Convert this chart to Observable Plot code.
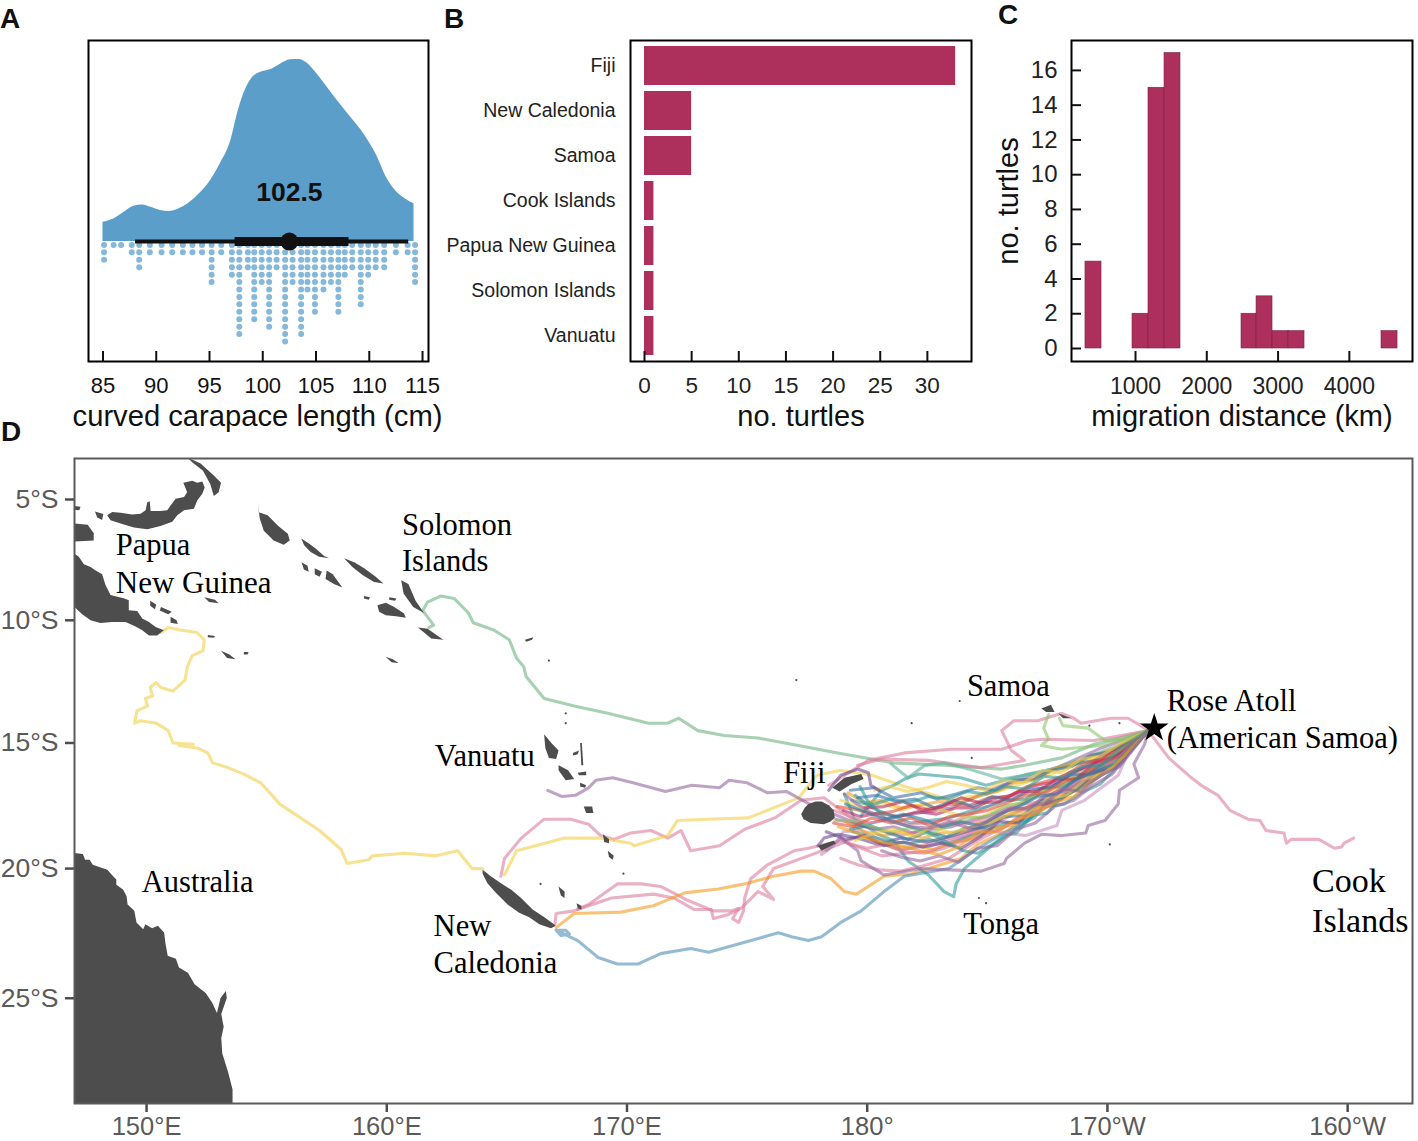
<!DOCTYPE html>
<html>
<head>
<meta charset="utf-8">
<script src="https://cdn.jsdelivr.net/npm/d3@7"></script>
<script src="https://cdn.jsdelivr.net/npm/@observablehq/plot@0.6"></script>
<style>
  html, body { margin: 0; padding: 0; background: white; }
  #page { position: relative; width: 1418px; height: 1141px; overflow: hidden; font-family: "Liberation Sans", sans-serif; }
  #page svg { position: absolute; }
  .tag { position: absolute; font-weight: bold; font-size: 28px; line-height: 28px; color: #111; }
</style>
</head>
<body>
<div id="page">
  <div class="tag" style="left:0;top:5px">A</div>
  <div class="tag" style="left:444px;top:5px">B</div>
  <div class="tag" style="left:998px;top:1px">C</div>
  <div class="tag" style="left:1px;top:418px">D</div>
</div>
<script>
// panel A: carapace length
const sizeX = [85,86,87,87.9,88.7,89.5,90.4,91.2,92.1,93.05,94.1,95.1,96,97,97.7,98.4,99,99.8,100.7,101.65,102.6,103.4,104.15,105.1,106.65,108.2,109.6,110.7,111.6,112.6,113.4,114.2]
const sizeDensity = [.106,.124,.161,.194,.201,.188,.17,.165,.179,.21,.265,.335,.426,.554,.718,.837,.898,.929,.943,.974,.998,1,.98,.92,.8,.686,.581,.472,.353,.271,.234,.207]
const dotBins = [85.1,86,86.7,87.7,88.4,89.4,90.5,91.5,92.5,93.4,94.3,95.2,96.1,97.1,97.8,98.6,99.2,99.9,100.6,101.3,102.1,102.8,103.6,104.2,104.9,105.7,106.4,107.1,107.7,108.4,109.2,109.9,110.6,111.4,112.5,113.6,114.3]
const dotCounts = [3,1,1,2,4,2,2,2,2,2,2,6,2,5,13,4,11,6,12,4,14,6,13,7,10,7,6,10,5,4,9,5,4,4,2,2,6]
const sizeMedian = 102.5
const sizeThin = [88.05, 113.7]
const sizeThick = [97.4, 108.1]
const sizeTicks = [85,90,95,100,105,110,115]

// panel B: countries
const places = ['Fiji','New Caledonia','Samoa','Cook Islands','Papua New Guinea','Solomon Islands','Vanuatu']
const placeCounts = [33,5,5,1,1,1,1]
const placeTicks = [0,5,10,15,20,25,30]

// panel C: migration distance
const binStart = [298,958,1182,1407,2487,2698,2922,3147,4451]
const binEnd = [523,1182,1407,1631,2698,2922,3147,3371,4676]
const binCounts = [5,2,15,17,2,3,1,1,1]
const distTicks = [1000,2000,3000,4000]
const countTicks = [0,2,4,6,8,10,12,14,16]

// panel D: map, longitudes run on past 180, latitudes are degrees south
const lonTicks = [150,160,170,180,190,200]
const lonLabels = ['150°E','160°E','170°E','180°','170°W','160°W']
const latTicks = [5,10,15,20,25]
const latLabels = ['5°S','10°S','15°S','20°S','25°S']

const place = [
  ['Solomon',160.63,6.05,30.5],['Islands',160.63,7.55,30.5],['Papua',148.72,6.9,30.5],['New Guinea',148.72,8.45,31],
  ['Samoa',184.15,12.7,30.5],['Rose Atoll',192.47,13.3,30.5],['(American Samoa)',192.47,14.82,30.5],['Vanuatu',162,15.55,30.5],
  ['Fiji',176.5,16.2,30.5],['Cook',198.52,20.5,34],['Islands',198.52,22.05,34],['Australia',149.8,20.52,30.5],
  ['Tonga',184,22.15,30.5],['New',161.95,22.25,30.5],['Caledonia',161.95,23.65,30.5]
]
const roseAtoll = [191.95, 14.4]

const land = [
  // Australia
  [[146,19.39],[146.97,19.39],[147.35,19.43],[147.44,19.65],[147.63,19.65],[147.76,19.85],[148.09,19.96],[148.37,20.05],[148.56,20.25],[148.74,20.43],[148.74,20.63],[149.02,20.82],[149.17,21.08],[149.21,21.4],[149.49,21.65],[149.58,22.1],[149.86,22.36],[149.95,22.17],[150.23,22.32],[150.47,22.23],[150.73,22.49],[150.79,22.93],[150.88,23.38],[151.22,23.5],[151.35,23.83],[151.72,24.03],[152,24.47],[152.46,24.8],[152.74,25.18],[152.93,25.56],[153.08,24.99],[153.3,24.73],[153.34,24.99],[153.11,25.6],[153.21,26.07],[153.11,26.5],[153.15,27.06],[153.39,27.75],[153.58,28.4],[153.58,30],[146,30]],
  // Papua New Guinea
  [[146,7.2],[147,7.25],[147.18,7.38],[147.39,7.69],[147.67,7.8],[147.88,7.95],[148.15,8.1],[148.29,8.55],[148.5,8.96],[148.78,9.03],[149.08,9.1],[149.26,9.17],[149.26,9.59],[149.61,9.62],[149.82,9.93],[150.1,10.07],[150.38,10.28],[150.72,10.41],[150.44,10.62],[150.1,10.62],[149.82,10.41],[149.54,10.25],[149.13,10.07],[148.57,10.07],[148.08,10.11],[147.67,10],[147.32,9.75],[147,9.45],[146,9.4]],
  [[148.36,5.66],[148.57,5.52],[148.92,5.55],[149.4,5.62],[149.75,5.59],[149.96,5.45],[150.03,5.11],[150.13,5.07],[150.17,5.48],[150.58,5.48],[150.86,5.45],[151,5.25],[151.21,4.97],[151.56,4.9],[151.69,4.7],[151.53,4.3],[151.9,4.22],[152.11,4.3],[152.32,4.25],[152.42,4.5],[152.32,4.76],[152.11,5.04],[151.97,5.38],[151.56,5.45],[151.28,5.66],[151.07,5.93],[150.58,6.1],[150.03,6.24],[149.47,6.16],[148.92,6],[148.5,5.86]],
  [[151.7,3.25],[152.25,3.5],[152.8,4],[153.1,4.3],[153,4.7],[152.8,4.85],[152.65,4.35],[152.35,3.8],[151.9,3.45]],
  [[146,6],[147,6],[147.55,6.05],[147.8,6.4],[147.8,6.7],[147,6.75],[146,6.75]],
  [[147.85,5.5],[148.2,5.6],[148.15,5.85],[147.95,5.75]],
  [[146.8,5.25],[147.25,5.3],[147.2,5.45],[146.8,5.4]],
  [[150.15,9.2],[150.4,9.35],[150.35,9.55],[150.15,9.4]],
  [[150.6,9.45],[151.05,9.65],[150.9,9.75],[150.55,9.6]],
  [[151,9.85],[151.25,10],[151.3,10.15],[151,10.1]],
  [[152.4,9.05],[152.85,9.15],[153,9.3],[152.6,9.25]],
  [[153.1,11.25],[153.45,11.4],[153.7,11.6],[153.35,11.55]],
  [[154.05,11.3],[154.25,11.3],[154.2,11.4],[154.05,11.4]],
  [[152.55,10.6],[152.85,10.65],[152.8,10.72],[152.55,10.7]],
  // Solomon Islands
  [[154.63,5.1],[154.67,5.53],[155.04,5.66],[155.46,6.08],[155.88,6.42],[155.96,6.7],[155.71,6.88],[155.29,6.7],[154.88,6.3],[154.71,5.78]],
  [[156.44,6.62],[156.76,6.83],[157.04,7.03],[157.39,7.35],[157.6,7.44],[157.18,7.38],[156.83,7.18],[156.56,6.9]],
  [[156.45,7.6],[156.7,7.75],[156.75,8],[156.55,7.9]],
  [[157,7.85],[157.3,8],[157.2,8.2],[157,8.1]],
  [[157.5,7.95],[157.75,8.1],[158.15,8.65],[157.8,8.5],[157.45,8.3]],
  [[158.22,7.44],[158.64,7.6],[159.06,7.85],[159.54,8.2],[159.86,8.48],[159.47,8.42],[158.99,8.13],[158.57,7.8]],
  [[159.61,9.38],[159.96,9.28],[160.31,9.45],[160.72,9.72],[160.79,9.9],[160.38,9.83],[159.96,9.79],[159.68,9.65]],
  [[160.6,8.35],[160.9,8.5],[161.2,9.2],[161.55,9.7],[161.1,9.45],[160.7,8.9]],
  [[161.3,10.3],[161.7,10.35],[162.35,10.8],[161.85,10.75]],
  [[160.1,9.05],[160.4,9.1],[160.35,9.2],[160.1,9.15]],
  [[159.05,9],[159.3,9.05],[159.25,9.15],[159.05,9.1]],
  [[159.95,11.5],[160.25,11.6],[160.5,11.75],[160.2,11.72]],
  [[165.75,10.8],[166.1,10.7],[166.05,10.8],[165.8,10.88]],
  // Vanuatu
  [[166.55,14.65],[166.85,15],[167.15,15.3],[167.05,15.65],[166.75,15.6],[166.6,15.2]],
  [[167.15,15.9],[167.55,16.1],[167.8,16.45],[167.45,16.5],[167.15,16.1]],
  [[167.75,15.4],[168,15.3],[167.95,15.45],[167.75,15.5]],
  [[167.95,16.2],[168.3,16.15],[168.3,16.3],[168,16.3]],
  [[168.05,16.6],[168.3,16.7],[168.25,16.8],[168.05,16.75]],
  [[168.2,17.55],[168.55,17.55],[168.6,17.8],[168.3,17.8]],
  [[169,18.65],[169.25,18.85],[169.25,19],[169.05,18.95]],
  [[169.2,19.3],[169.45,19.5],[169.4,19.65],[169.25,19.55]],
  [[168.05,15],[168.12,15],[168.18,15.9],[168.1,15.9]],
  // New Caledonia
  [[163.99,20.05],[164.33,20.3],[164.75,20.57],[165.17,20.82],[165.58,21.14],[166.07,21.6],[166.56,21.9],[167.04,22.23],[166.83,22.32],[166.35,22.17],[165.93,21.9],[165.51,21.72],[165.03,21.4],[164.54,20.95],[164.19,20.57],[163.99,20.2]],
  [[167.15,20.7],[167.4,20.9],[167.4,21.15],[167.25,21.05],[167.2,20.9]],
  [[167.9,21.35],[168.1,21.45],[168.1,21.6],[167.95,21.55]],
  // Fiji
  [[177.25,17.85],[177.4,17.6],[177.55,17.45],[177.85,17.35],[178.1,17.35],[178.4,17.5],[178.6,17.7],[178.65,18],[178.45,18.15],[178.2,18.25],[177.65,18.2],[177.35,18.05]],
  [[178.55,16.8],[179.05,16.4],[179.75,16.25],[179.85,16.45],[179.35,16.65],[178.85,16.95]],
  [[177.95,19.1],[178.6,18.9],[178.7,19],[178.1,19.3]],
  // Samoa
  [[187.25,13.6],[187.65,13.45],[187.8,13.75],[187.45,13.75]],
  [[187.95,13.8],[188.5,14],[188.15,14]]
]
const dustLon = [167.45,167.45,166.75,169.85,166.4,190.1,184.65,184.95,177.05,181.85,183.85,184.35,190.5,189.25]
const dustLat = [13.8,14.2,11.65,20.2,20.6,19.05,21.15,21.35,12.45,14.2,13.3,15.6,14.2,14.3]

const trackColors = [
  '#f2cf4a','#6db37f','#dc7c9c','#f2cf4a','#dc7c9c','#dc7c9c','#f39b1f','#4f8db5','#94659f','#dc7c9c',
  '#dc7c9c','#2e9a9a','#2e9a9a','#5fb39a','#dc7c9c','#dc7c9c','#8cc56a','#8cc56a',
  '#94659f','#c78fc0','#6a4a90',
  '#f39b1f','#3a6fa8','#b5285e','#f2cf4a','#2e9a9a','#94659f','#dc7c9c','#f39b1f','#1f7fa0','#df4f3a','#8cc56a',
  '#f2cf4a','#3a6fa8','#b5285e','#2e9a9a','#f39b1f','#dc7c9c','#6a4a90','#2e9a9a','#f2cf4a','#df4f3a','#94659f','#1f7fa0','#f39b1f','#2e9a9a',
  '#94659f','#6a4a90'
]
const tracks = [
  // Papua New Guinea
  [[150.6,10.5],[150.9,10.3],[151.4,10.4],[152.1,10.5],[152.4,10.8],[152.35,11.25],[151.9,11.45],[151.7,11.9],[151.6,12.45],[151.1,12.9],[150.6,12.75],[150.4,12.55],[150.15,12.75],[150.25,13.1],[149.95,13.2],[150.05,13.5],[149.6,13.7],[149.5,14.2],[149.75,14.1],[150.4,14.2],[150.9,14.5],[151.1,15],[151.95,15.05],[151.35,15.1],[152.1,15.2],[152.55,15.4],[152.75,15.8],[153.4,16],[154.05,16.25],[154.75,16.6],[155.55,17.45],[157.2,18.5],[158.1,19.25],[158.35,19.8],[159.25,19.65],[159.4,19.5],[160.75,19.4],[162.05,19.5],[162.95,19.3],[163.55,20],[164,20]],
  // Solomon Islands
  [[161.75,10.3],[161.95,10.2],[161.5,9.6],[161.7,9.25],[162.25,9],[162.8,9.1],[163.4,9.7],[163.6,10.1],[164.45,10.4],[165.1,10.8],[165.4,11.55],[165.7,11.9],[165.8,12.3],[166.55,13.2],[167.8,13.5],[169.2,13.8],[170.9,14.2],[171.7,14.2],[172.15,14],[172.95,14.5],[174.05,14.7],[175.45,14.8],[176.85,15.05],[179.05,15.45],[181.1,15.8],[183.4,15.9],[185.6,16.05],[186.55,15.9],[188.1,15.6],[189.45,15.05],[191.7,14.5]],
  // New Caledonia, north of Vanuatu's south end
  [[164.75,20.3],[164.9,19.6],[165.6,18.8],[166.55,18.05],[167.65,18.05],[168.4,18.25],[168.9,18.7],[169.45,18.85],[170.15,18.6],[171,18.5],[171.7,18.8],[172.25,18.5],[172.65,19.3],[173.85,19.1],[174.9,18.45],[176.15,18],[177.25,17.3],[178.2,17.2],[179.75,18.3],[181.4,18.7],[183.5,18.2],[185.6,17.3],[187.65,16.7],[189.75,15.7],[191.7,14.5]],
  [[164.9,20.25],[165.4,19.3],[166.4,19.05],[167.4,18.8],[168.9,18.8],[170.15,19],[170.3,19.1],[171.7,18.7],[172.1,18.1],[173.35,18.05],[175.05,18],[176.1,17.6],[177.15,17.2],[177.9,16.3],[178.9,16.1],[180.2,16.3],[181.4,16.7],[183.5,17.3],[185.6,16.9],[188.1,16.1],[190.15,15.3],[191.7,14.5]],
  // New Caledonia, southern routes
  [[167,22.15],[167.05,21.75],[167.8,21.65],[168.4,21.4],[169.6,20.6],[170.6,20.6],[171.4,20.7],[172.55,21.25],[173.6,21.65],[174.35,21.65],[174.65,21.55],[174.4,21.95],[174.65,22.1],[174.85,21.65],[174.9,21.15],[175.15,20.4],[175.85,19.85],[176.95,19.3],[177.55,19.2],[178.9,18.9],[180.6,19.5],[182.65,19.3],[185.15,18.3],[187.25,17.3],[189.75,15.9],[191.7,14.5]],
  [[167.95,21.6],[169.35,21.15],[171.1,21],[171.95,21.15],[172.8,21.6],[173.5,21.6],[173.6,21.95],[174.2,21.8],[174.75,21.55],[175.45,20.9],[176.1,21.2],[175.65,20.7],[176.1,20],[177.55,19.5],[178.4,19.2],[179.75,18.7],[181.4,19.3],[183.9,18.7],[186.4,17.7],[188.5,16.7],[190.15,15.5],[191.7,14.5]],
  [[167.05,22.3],[167.8,21.75],[169.75,21.7],[171.1,21.45],[172.4,20.95],[173.8,20.8],[174.9,20.6],[176.1,20.3],[177.25,20.1],[177.8,20.1],[178.5,20.4],[179.05,20.9],[179.55,21],[180.7,20.3],[181.85,20.2],[183.9,19.6],[184.6,19.05],[185.85,18.5],[187.35,17.45],[189.45,16.25],[191.7,14.5]],
  [[167.05,22.4],[167.45,22.4],[167.6,22.55],[167.25,22.6],[167.05,22.4],[167.95,22.8],[168.8,23.45],[169.6,23.7],[170.45,23.7],[171.4,23.3],[172.65,23.1],[173.4,23.25],[174.75,22.9],[176.3,22.5],[176.85,22.65],[177.55,22.8],[178.1,22.65],[178.9,22.1],[179.75,21.65],[180.7,20.9],[181.55,20.3],[183.4,20],[184.45,19.3],[185.6,18.65],[186.95,18],[187.8,17],[189.45,16.1],[191.55,14.7],[191.7,14.5]],
  // Vanuatu
  [[166.7,16.9],[167.3,17.15],[167.85,17.1],[168.4,16.8],[168.7,16.5],[169.4,16.4],[170.25,16.6],[171.6,16.95],[172.7,16.7],[173.85,16.8],[174.25,16.5],[175,16.6],[175.85,17],[176.65,16.95],[177.5,17.4],[179.75,18.3],[181.5,17.9],[183.5,17.6],[185.6,16.7],[187.65,16.1],[189.75,15.2],[191.7,14.5]],
  // Samoa side loops
  [[178.4,16.7],[180.05,15.7],[181.55,15.4],[183.5,15.25],[185.6,15.25],[186.7,14.9],[187.35,14.85],[189.45,14.9],[191.7,14.5]],
  [[179.6,15.9],[180.6,15.65],[182.55,15.7],[184.75,16],[186.55,15.7],[186,15.3],[185.6,14.5],[186.1,14.1],[187.1,14.1],[188.1,13.8],[188.6,14],[188.9,14.2],[190.15,14],[190.85,14],[191.4,14.3],[191.7,14.5]],
  // Tonga loop and upper teal
  [[179.05,17.05],[179.45,18],[180.45,18.65],[181.1,18.9],[181.7,19.7],[182.55,20.25],[183.2,20.9],[183.6,21.1],[183.7,20.6],[184.05,20],[185.05,19.2],[186.1,18.5],[187.35,17.6],[188.8,16.8],[190.3,16],[191.7,14.5]],
  [[179.75,17.9],[180.6,16.9],[181.1,16.7],[181.55,16.45],[182.15,16.25],[183.9,16.4],[184.95,16.7],[186.7,16.25],[189.45,15.7],[191.7,14.5]],
  [[181,15.85],[181.7,16.4],[182.4,15.9],[183.2,15.8],[184.4,16.1],[185.6,16.45],[187.2,16.2],[188.8,15.7],[190.3,15.15],[191.7,14.5]],
  // Cook Islands
  [[191.7,14.5],[192.55,15.6],[193.5,16.4],[193.9,16.7],[194.6,17.1],[195.1,17.7],[195.85,18.05],[196.35,18.1],[196.6,18.5],[197.35,18.6],[197.45,19],[197.65,18.85],[198.8,18.85],[199.45,19.2],[199.75,19.15],[199.85,19],[200.25,18.8]],
  [[178.9,19.6],[179.6,19.85],[180.5,20.05],[181.4,20.1],[182.3,19.9],[183.4,19.6],[184.6,18.9],[185.8,18.3],[187.1,17.4],[188.4,16.6],[189.6,15.9],[190.7,15.2],[191.7,14.5]],
  // Samoa greens
  [[187.55,13.85],[187.35,14.4],[187.55,14.85],[187.25,15.1],[188.1,15.25],[189.75,15.1],[191.7,14.5]],
  [[188,14],[188.15,14.3],[189.2,14.4],[189.9,14.9],[190.8,14.85],[191.7,14.5]],
  // lower purple outliers
  [[191.7,14.5],[191.55,15.05],[191.1,15.85],[191.3,16.4],[190.5,16.9],[190.45,17.45],[189.9,18.1],[189.2,18.3],[189.1,18.6],[188.1,18.7],[187.25,18.65],[186.55,19],[185.8,19.6],[185.7,19.8],[184.75,20.1],[183.4,20.05],[182.25,20],[180.7,20.25],[179.75,19.7],[179.6,19.3],[178.9,18.8],[178.3,19.3]],
  [[191.7,14.5],[191,15.1],[190.45,16.3],[189.05,17.3],[188.1,17.7],[187.9,18.3],[186.6,18.7],[184.95,18.5],[182.65,19.1],[181.4,19.25],[179.75,18.5],[179,18.55],[178.6,19.1],[178.1,19.45]],
  [[177.95,19.1],[178.2,18.8],[178.8,18.65],[179.6,18.8],[180.45,19.05],[181.4,18.8],[182.5,18.95],[183.6,18.7],[184.8,18.35],[186,17.6],[187.3,17],[188.6,16.2],[190,15.4],[191.7,14.5]],
  // Fiji, the main bundle
  [[179.2,17],[179.9,17.4],[180.6,17.3],[181.4,17.6],[182.2,17.5],[183,17.35],[183.8,17.4],[184.6,17.15],[185.4,16.95],[186.1,16.6],[186.9,16.5],[187.7,16.05],[188.5,15.85],[189.3,15.55],[190.1,15.3],[190.9,14.95],[191.7,14.5]],
  [[179.3,16.9],[180.3,16.8],[181.1,17.2],[182.25,17],[182.9,17.25],[183.7,17.05],[184.6,16.8],[185.3,16.9],[186.1,16.5],[186.9,16.45],[187.7,16.1],[188.5,15.95],[189.3,15.5],[190.1,15.35],[190.9,14.95],[191.7,14.5]],
  [[179,17.7],[179.7,17.95],[180.5,17.8],[181.3,17.95],[182.1,17.75],[182.9,17.85],[183.7,17.6],[184.5,17.6],[185.2,17.25],[186,17.1],[186.8,16.75],[187.6,16.6],[188.4,16.2],[189.2,15.95],[190,15.5],[190.8,15.1],[191.7,14.5]],
  [[178.9,17.3],[179.8,17.6],[180.6,17.4],[181.4,17.7],[182.3,17.45],[183.1,17.7],[183.9,17.9],[184.7,18],[185.5,17.6],[186.2,17.45],[187,17.05],[187.8,16.9],[188.5,16.4],[189.4,16.1],[190.2,15.45],[191,15.05],[191.7,14.5]],
  [[179.5,17.1],[180.2,17.6],[181,17.9],[181.8,18.2],[182.6,18.1],[183.4,18],[184.2,17.75],[185,17.55],[185.8,17.3],[186.6,17.25],[187.3,16.8],[188.1,16.75],[188.9,16.35],[189.7,16.05],[190.4,15.6],[191,15.2],[191.7,14.5]],
  [[178.7,18.05],[179.5,18.25],[180.3,18.45],[181.1,18.35],[181.9,18.6],[182.7,18.45],[183.5,18.35],[184.3,18.1],[185.1,17.9],[185.9,17.6],[186.7,17.65],[187.4,17.1],[188.2,16.95],[189,16.5],[189.8,16],[190.6,15.4],[191.7,14.5]],
  [[178.6,17.7],[179.3,17.95],[180.1,18.2],[180.9,18.05],[181.7,18.25],[182.5,18.2],[183.3,18.05],[184.1,18.25],[184.9,18.05],[185.7,17.75],[186.5,17.45],[187.3,17.35],[188,16.85],[188.8,16.6],[189.6,16],[190.4,15.7],[191.7,14.5]],
  [[179.1,18.15],[179.9,18.55],[180.7,18.7],[181.5,18.55],[182.3,18.8],[183.1,18.6],[183.9,18.55],[184.7,18.2],[185.5,18.05],[186.3,17.65],[187.1,17.55],[187.9,17.2],[188.7,16.9],[189.5,16.35],[190.3,15.75],[191.7,14.5]],
  [[179.3,18.45],[180.1,18.3],[180.9,18.6],[181.7,18.85],[182.5,18.55],[183.3,18.75],[184.1,18.4],[184.9,18.4],[185.7,17.95],[186.5,17.9],[187.3,17.3],[188.1,17.25],[188.9,16.6],[189.7,16.25],[190.5,15.6],[191.7,14.5]],
  [[178.75,17.55],[179.45,17.65],[180.25,17.85],[181.05,17.75],[181.85,17.5],[182.65,17.7],[183.45,17.45],[184.25,17.5],[185.05,17.2],[185.85,17.15],[186.65,16.75],[187.45,16.55],[188.25,16.3],[189.05,15.8],[189.85,15.65],[190.65,15.1],[191.7,14.5]],
  [[178.65,18.1],[179.4,18.1],[180.2,18.35],[181,18.55],[181.8,18.4],[182.6,18.65],[183.4,18.3],[184.2,18],[185,17.95],[185.8,17.5],[186.6,17.4],[187.4,16.85],[188.2,16.65],[189,16.15],[189.8,15.85],[190.6,15.25],[191.7,14.5]],
  [[180.3,16.9],[180.9,16.75],[181.7,16.95],[182.5,16.8],[183.3,16.55],[184.1,16.7],[184.9,16.9],[185.7,16.5],[186.5,16.6],[187.3,16.1],[188.1,16.2],[188.9,15.65],[189.7,15.55],[190.5,15.05],[191.7,14.5]],
  [[179.6,17.2],[180.4,17.1],[181.2,17.35],[182,17.25],[182.8,17.6],[183.6,17.3],[184.4,17.55],[185.2,17.15],[186,17.3],[186.8,16.85],[187.6,16.8],[188.4,16.3],[189.2,16.25],[190,15.7],[190.8,15.3],[191.7,14.5]],
  [[179.9,17.6],[180.7,17.55],[181.5,17.35],[182.3,17.7],[183.1,17.55],[183.9,17.2],[184.7,17.4],[185.5,17.35],[186.3,16.95],[187.1,16.95],[187.9,16.45],[188.7,16.45],[189.5,15.8],[190.3,15.55],[191.7,14.5]],
  [[179.4,18.55],[180.2,18.75],[181,18.95],[181.8,19],[182.6,18.85],[183.4,19.05],[184.2,18.75],[185,18.5],[185.8,18.2],[186.6,18.1],[187.4,17.55],[188.2,17.45],[188.9,17],[189.7,16.65],[190.5,15.85],[191.7,14.5]],
  [[178.8,18.35],[179.6,18.6],[180.4,18.95],[181.2,19.2],[182,19.1],[182.8,19.25],[183.6,18.95],[184.4,18.85],[185.2,18.4],[186,18.3],[186.8,17.75],[187.6,17.5],[188.4,17.05],[189.2,16.6],[190,16.05],[190.8,15.45],[191.7,14.5]],
  [[179.2,19],[180,19.2],[180.8,19.05],[181.6,19.35],[182.4,19.4],[183.2,19.2],[184,18.9],[184.8,18.65],[185.6,18.45],[186.4,17.95],[187.2,17.7],[188,17.2],[188.8,16.75],[189.6,16.4],[190.4,15.65],[191.7,14.5]],
  [[178.3,18.55],[179.1,18.85],[179.9,18.7],[180.7,19.1],[181.5,18.95],[182.3,19.15],[183.1,19],[183.9,19.2],[184.7,18.75],[185.5,18.15],[186.3,18.2],[187.1,17.5],[187.9,17.35],[188.7,16.85],[189.5,16.2],[190.3,16],[191.7,14.5]],
  [[179.7,16.75],[180,17.3],[180.8,18.05],[181.6,18.3],[182.4,18.5],[183.2,18.9],[184,19.3],[184.6,19.4],[185.3,19],[185.7,18.7],[186.2,18.6],[186.9,17.9],[187.5,17.8],[188.1,17.15],[189,16.75],[190,16.15],[191.7,14.5]],
  [[179.5,18.9],[180.3,18.6],[181.1,18.45],[181.9,18.75],[182.7,18.35],[183.5,18.6],[184.3,18.35],[185.1,18.2],[185.9,17.85],[186.7,17.8],[187.5,17.25],[188.3,17.1],[189.1,16.45],[189.9,16.2],[190.7,15.5],[191.7,14.5]],
  [[178.6,18.2],[179.4,18.35],[180.2,18],[181,18.2],[181.8,18],[182.6,18.3],[183.4,17.95],[184.2,17.85],[185,17.7],[185.8,17.4],[186.6,17.1],[187.4,17],[188.2,16.55],[189,16.35],[189.8,15.75],[190.6,15.5],[191.7,14.5]],
  [[180.6,19.3],[181.4,19.55],[182.2,19.7],[183,19.5],[183.8,19.75],[184.6,19.2],[185.4,19.1],[186.2,18.45],[187,18.2],[187.8,17.55],[188.6,17.3],[189.4,16.7],[190.2,16.25],[191.7,14.5]],
  [[179.1,17.45],[179.9,17.75],[180.7,18.05],[181.5,17.85],[182.3,18.05],[183.1,18.35],[183.9,18.15],[184.7,18.3],[185.5,17.85],[186.3,17.55],[187.1,17.15],[187.9,17.05],[188.7,16.45],[189.5,16.15],[190.3,15.85],[191.7,14.5]],
  [[179.8,18.75],[180.6,18.95],[181.4,19.1],[182.2,19.3],[183,19.45],[183.8,19.15],[184.6,18.55],[185.4,18.55],[186.2,18.05],[187,17.85],[187.8,17.4],[188.6,17.15],[189.4,16.5],[190.2,16],[191.7,14.5]],
  [[179.35,17.3],[180.15,17.5],[180.95,17.25],[181.75,17.4],[182.55,17.15],[183.35,17.25],[184.15,16.95],[184.95,17.05],[185.75,16.75],[186.55,16.85],[187.35,16.35],[188.15,16.4],[188.95,15.95],[189.75,15.9],[190.55,15.2],[191.7,14.5]],
  [[179.05,17.05],[179.5,17.4],[180.1,17.75],[181,18.15],[181.8,18.35],[182.6,18.4],[183.4,18.15],[184.2,18.4],[185,18.15],[185.8,17.7],[186.6,17.6],[187.4,17.4],[188.2,16.85],[188.9,16.95],[189.7,16.3],[190.5,15.95],[191.7,14.5]],
  // loops round Vanua Levu and Kadavu
  [[178.4,16.9],[178.9,16.3],[179.6,16.05],[180.05,16.2],[180.15,16.7],[180.5,16.9]],
  [[177.85,19.2],[178.1,18.85],[178.7,18.7],[179,18.9],[178.6,19.25],[178,19.45],[177.85,19.2]]
]

// mercator in degrees south, this is what the map's latitude ticks follow
const merc = lat => Math.log(Math.tan(Math.PI / 4 + lat * Math.PI / 360))

const page = d3.select('#page')
const sans = '"Liberation Sans", sans-serif'
const berry = '#ad2f5c'

function place_(chart, left, top) {
  d3.select(chart).style('left', left + 'px').style('top', top + 'px')
  page.append(() => chart)
}

// ---- A
const sizeLine = sizeX.map((x, i) => ({x, y: sizeDensity[i]}))
const sizeDots = dotBins.flatMap((x, i) => d3.range(dotCounts[i]).map(k => ({x, k})))
const chartA = Plot.plot({
  width: 445, height: 410, marginLeft: 88, marginRight: 17, marginTop: 12, marginBottom: 77,
  style: {fontFamily: sans, color: '#111', background: 'transparent', overflow: 'visible'},
  x: {domain: [83.64, 115.56]},
  y: {domain: [-0.659, 1.104], axis: null},
  marks: [
    Plot.areaY(sizeLine, {x: 'x', y: 'y', fill: '#5b9ec9', curve: 'monotone-x'}),
    Plot.dot(sizeDots, {x: 'x', y: d => -(0.0187 + d.k * 0.0408), r: 3, fill: '#86b8da'}),
    Plot.ruleY([0], {x1: sizeThin[0], x2: sizeThin[1], stroke: '#111', strokeWidth: 4}),
    Plot.ruleY([0], {x1: sizeThick[0], x2: sizeThick[1], stroke: '#111', strokeWidth: 9}),
    Plot.dot([sizeMedian], {x: d => d, y: 0, r: 9, fill: '#111'}),
    Plot.text([sizeMedian], {x: d => d, y: 0.27, text: d => d.toFixed(1), fontSize: 26.5, fontWeight: 'bold', fill: '#111'}),
    Plot.tickX(sizeTicks, {insetTop: 311, stroke: '#111', strokeWidth: 2}),
    Plot.axisX(sizeTicks, {tickSize: 0, tickPadding: 16, fontSize: 22, label: null}),
    Plot.text(['curved carapace length (cm)'], {frameAnchor: 'bottom', lineAnchor: 'middle', dy: 55, fontSize: 29.2, dx: -1, fill: '#111'}),
    Plot.frame({stroke: '#000', strokeWidth: 2})
  ]
})
place_(chartA, 0, 28)

// ---- B
const placeRows = places.map((p, i) => ({p, n: placeCounts[i]}))
const chartB = Plot.plot({
  width: 535, height: 410, marginLeft: 185, marginRight: 9, marginTop: 12, marginBottom: 77,
  style: {fontFamily: sans, color: '#222', background: 'transparent', overflow: 'visible'},
  x: {domain: [-1.485, 34.68]},
  y: {domain: places, padding: 0.133},
  marks: [
    Plot.barX(placeRows, {x: 'n', y: 'p', fill: berry}),
    Plot.tickX(placeTicks, {insetTop: 311, stroke: '#111', strokeWidth: 2}),
    Plot.axisY({tickSize: 0, tickPadding: 15, fontSize: 19.5, label: null}),
    Plot.axisX(placeTicks, {tickSize: 0, tickPadding: 16, fontSize: 22.5, label: null}),
    Plot.text(['no. turtles'], {frameAnchor: 'bottom', lineAnchor: 'middle', dy: 55, fontSize: 29, fill: '#111'}),
    Plot.frame({stroke: '#000', strokeWidth: 2})
  ]
})
place_(chartB, 445, 28)

// ---- C
const binRows = binCounts.map((n, i) => ({a: binStart[i], b: binEnd[i], n}))
const chartC = Plot.plot({
  width: 438, height: 410, marginLeft: 91, marginRight: 6, marginTop: 12, marginBottom: 77,
  style: {fontFamily: sans, color: '#222', background: 'transparent', overflow: 'visible'},
  x: {domain: [102, 4886]},
  y: {domain: [-0.748, 17.72]},
  marks: [
    Plot.rectY(binRows, {x1: 'a', x2: 'b', y1: 0, y2: 'n', fill: berry, stroke: '#7d2145', strokeWidth: 0.6}),
    Plot.tickX(distTicks, {insetTop: 311, stroke: '#111', strokeWidth: 2}),
    Plot.tickY(countTicks, {insetRight: 331, stroke: '#111', strokeWidth: 2}),
    Plot.axisX(distTicks, {tickSize: 0, tickPadding: 16, fontSize: 23, tickFormat: d => String(d), label: null}),
    Plot.axisY(countTicks, {tickSize: 0, tickPadding: 14, fontSize: 24, label: null}),
    Plot.text(['no. turtles'], {frameAnchor: 'left', textAnchor: 'middle', rotate: -90, dx: -63, fontSize: 29, fill: '#111'}),
    Plot.text(['migration distance (km)'], {frameAnchor: 'bottom', lineAnchor: 'middle', dy: 55, fontSize: 29, fill: '#111'}),
    Plot.frame({stroke: '#000', strokeWidth: 2})
  ]
})
place_(chartC, 980, 28)

// ---- D
const trackRows = tracks.flatMap((t, id) => t.map(p => ({lon: p[0], lat: p[1], id, color: trackColors[id]})))
const landRows = land.flatMap((s, id) => s.map(p => ({lon: p[0], lat: p[1], id})))
const dust = dustLon.map((lon, i) => ({lon, lat: dustLat[i]}))
const gray = '#5a5a5a'
const chartD = Plot.plot({
  width: 1418, height: 701, marginLeft: 74, marginRight: 6, marginTop: 18, marginBottom: 38,
  style: {fontFamily: sans, color: gray, background: 'transparent', overflow: 'visible'},
  x: {domain: [147, 202.7]},
  y: {domain: [0.0575, 0.5276], reverse: true},
  color: {type: 'identity'},
  marks: [
    Plot.line(trackRows, {x: 'lon', y: d => merc(d.lat), z: 'id', stroke: 'color', strokeWidth: 3.1, strokeOpacity: 0.6, curve: 'linear', clip: true}),
    Plot.line(landRows, {x: 'lon', y: d => merc(d.lat), z: 'id', fill: '#4d4d4d', stroke: 'none', clip: true}),
    Plot.dot(dust, {x: 'lon', y: d => merc(d.lat), r: 1.1, fill: '#4d4d4d'}),
    Plot.dot([roseAtoll], {x: d => d[0], y: d => merc(d[1]), symbol: 'star', r: 9, fill: '#000'}),
    Plot.text(place, {x: d => d[1], y: d => merc(d[2]), text: d => d[0], textAnchor: 'start', lineAnchor: 'middle', fontFamily: '"Liberation Serif", serif', fontSize: d => d[3], fill: '#000'}),
    Plot.axisX(lonTicks, {tickSize: 9, tickPadding: 4, fontSize: 25.5, strokeWidth: 2.5, stroke: '#4d4d4d', tickFormat: (d, i) => lonLabels[i], label: null}),
    Plot.axisY(latTicks.map(merc), {tickSize: 9, tickPadding: 7, fontSize: 26.5, strokeWidth: 2.5, stroke: '#4d4d4d', tickFormat: (d, i) => latLabels[i], label: null}),
    Plot.frame({stroke: '#5a5a5a', strokeWidth: 2})
  ]
})
place_(chartD, 0, 440)
</script>
</body>
</html>
